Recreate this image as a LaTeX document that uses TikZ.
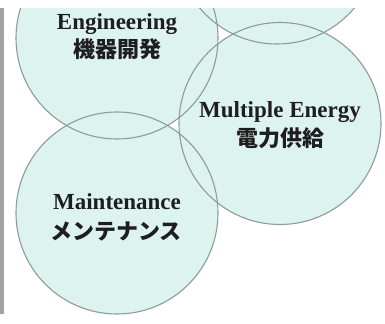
\documentclass[tikz,border=0pt]{standalone}
\usepackage{fontspec}
\setmainfont{Liberation Serif}
\newfontfamily\cjk{Noto Sans CJK JP}
\definecolor{bubblefill}{HTML}{DDF3EF}
\definecolor{bubbleline}{HTML}{8C9C98}
\definecolor{barc}{HTML}{A3A3A3}
\definecolor{txt}{HTML}{1E1E1E}
\tikzset{
  bubble/.style={circle, inner sep=0pt, minimum size=202bp, fill=bubblefill},
  ring/.style={draw=bubbleline, line width=1.1bp},
  entext/.style={anchor=base, inner sep=0pt, text=txt, font=\fontsize{23bp}{25bp}\selectfont\bfseries},
  jptext/.style={inner sep=0pt, text=txt, font=\fontsize{22bp}{24bp}\selectfont\cjk\bfseries},
}
\begin{document}
\begin{tikzpicture}[x=1bp,y=-1bp]
\useasboundingbox (0,0) rectangle (385,324);
\fill[barc] (0,8) rectangle (4,314);
\begin{scope}
  \clip (0,8) rectangle (385,324);
  \node[bubble] (eng) at (117,38) {};
  \node[bubble] (top) at (277,-57) {};
  \node[bubble] (mul) at (280,123.5) {};
  \node[bubble] (mnt) at (117,213) {};
  \draw[ring] (eng.center) circle[radius=101];
  \draw[ring] (top.center) circle[radius=101];
  \draw[ring] (mul.center) circle[radius=101];
  \draw[ring] (mnt.center) circle[radius=101];
\end{scope}
\node[entext] (engt) at (117,29) {Engineering};
\node[jptext] (engj) at (117,49) {機器開発};
\node[entext] (mult) at (280,117) {Multiple Energy};
\node[jptext] (mulj) at (280,138) {電力供給};
\node[entext] (mntt) at (117,209) {Maintenance};
\node[jptext] (mntj) at (116,231) {メンテナンス};
\end{tikzpicture}
\end{document}
